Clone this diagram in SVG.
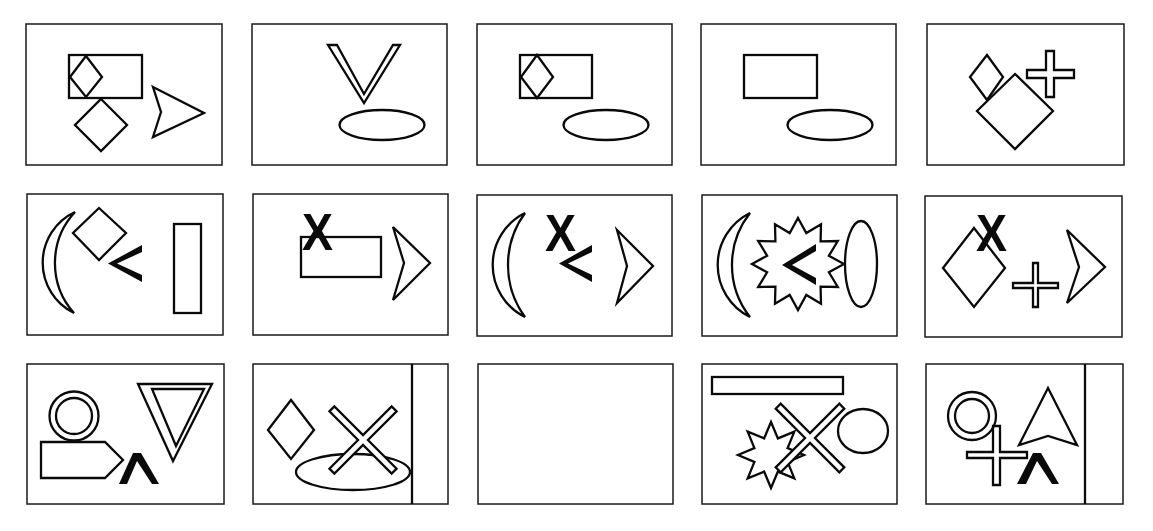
<svg xmlns="http://www.w3.org/2000/svg" width="1153" height="531" viewBox="0 0 1153 531">
<style>
.frame{fill:#fff;stroke:#1a1a1a;stroke-width:1.5}
.s{fill:none;stroke:#0a0a0a;stroke-width:2.3;stroke-linejoin:miter}
.w{fill:#fff;stroke:#0a0a0a;stroke-width:2.3}
.b{fill:#0a0a0a;stroke:none}
.x{font-family:"Liberation Sans",Arial,sans-serif;font-weight:bold;font-size:51px;fill:#0a0a0a}
</style>
<rect width="1153" height="531" fill="#fff"/>

<g id="p1">
<rect class="frame" x="26" y="24" width="196" height="141"/>
<rect class="s" x="69" y="55" width="73" height="43" stroke-width="2.6"/>
<polygon class="s" points="86,56 102,77 86,97 70,77"/>
<polygon class="s" points="101,99 127,125 101,151 75,125"/>
<polygon class="s" points="153,87 204,113 153,137 161,112"/>
</g>

<g id="p2">
<rect class="frame" x="252" y="24" width="195" height="141"/>
<polygon class="s" points="328,45 337,45 364,94 393,45 400,45 364,103"/>
<ellipse class="s" cx="382" cy="125" rx="42.5" ry="15"/>
</g>

<g id="p3">
<rect class="frame" x="477" y="24" width="195" height="141"/>
<rect class="s" x="520" y="55" width="72" height="43" stroke-width="2.6"/>
<polygon class="s" points="537,55 553,77 537,98 521,77"/>
<ellipse class="s" cx="606" cy="125" rx="42.5" ry="15"/>
</g>

<g id="p4">
<rect class="frame" x="701" y="24" width="195" height="141"/>
<rect class="s" x="744" y="55" width="73" height="43" stroke-width="2.6"/>
<ellipse class="s" cx="830" cy="125" rx="42.5" ry="15"/>
</g>

<g id="p5">
<rect class="frame" x="927" y="24" width="197" height="141"/>
<polygon class="s" points="987,55 1003,77 987,100 970,77"/>
<polygon class="w" points="1015,74 1053,111 1015,149 977,111"/>
<polygon class="s" points="1046,51 1054,51 1054,70 1074,70 1074,78 1054,78 1054,97 1046,97 1046,78 1027,78 1027,70 1046,70"/>
</g>

<g id="p6">
<rect class="frame" x="27" y="194" width="196" height="141"/>
<path class="s" d="M75,212 A56,56 0 0 0 74,313 A75,75 0 0 1 75,212 Z" stroke-width="2.5"/>
<polygon class="s" points="99,208 126,233 99,260 73,233"/>
<polygon class="b" points="142,245 142,252 117,263.5 142,275 142,282 108,263.5"/>
<rect class="s" x="174" y="224" width="27" height="89"/>
</g>

<g id="p7">
<rect class="frame" x="253" y="194" width="195" height="141"/>
<rect class="s" x="301" y="237" width="80" height="40"/>
<text class="x" x="302" y="250" textLength="31" lengthAdjust="spacingAndGlyphs">X</text>
<polygon class="s" points="393,227 430,263 393,300 404,263"/>
</g>

<g id="p8">
<rect class="frame" x="477" y="195" width="195" height="141"/>
<path class="s" d="M525,213 A58,58 0 0 0 525,317 A88,88 0 0 1 525,213 Z" stroke-width="2.5"/>
<text class="x" x="545" y="251" textLength="31" lengthAdjust="spacingAndGlyphs">X</text>
<polygon class="b" points="592,245 592,252 568,263.5 592,275 592,282 559,263.5"/>
<polygon class="s" points="617,230 653,266 617,303 627,266"/>
</g>

<g id="p9">
<rect class="frame" x="702" y="195" width="195" height="141"/>
<path class="s" d="M750,213 A58,58 0 0 0 750,317 A84,84 0 0 1 750,213 Z" stroke-width="2.5"/>
<polygon class="s" points="798,218 806.3,233.1 821,224.2 820.6,241.4 837.8,241 828.9,255.7 844,264 828.9,272.3 837.8,287 820.6,286.6 821,303.8 806.3,294.9 798,310 789.7,294.9 775,303.8 775.4,286.6 758.2,287 767.1,272.3 752,264 767.1,255.7 758.2,241 775.4,241.4 775,224.2 789.7,233.1"/>
<polygon class="b" points="816,244 816,251 792,265 816,278 816,285 782,265"/>
<ellipse class="s" cx="861" cy="264" rx="16" ry="43"/>
</g>

<g id="p10">
<rect class="frame" x="925" y="196" width="197" height="141"/>
<polygon class="s" points="974,228 1005,268 974,307 943,268"/>
<text class="x" x="976" y="251" textLength="31" lengthAdjust="spacingAndGlyphs">X</text>
<polygon class="w" stroke-width="2" points="1033,263 1038,263 1038,283 1058,283 1058,288 1038,288 1038,307 1033,307 1033,288 1013,288 1013,283 1033,283"/>
<polygon class="s" points="1067,230 1105,267 1067,303 1079,267"/>
</g>

<g id="p11">
<rect class="frame" x="27" y="364" width="197" height="140"/>
<circle class="s" cx="74" cy="416" r="24.5" stroke-width="2.6"/>
<circle class="s" cx="74" cy="416" r="18" stroke-width="2.6"/>
<polygon class="s" points="41,442 105,442 123,460 105,478 41,478"/>
<polygon class="b" points="133,453 141,453 159,484 152,484 137,461 127,484 119,484"/>
<polygon class="s" points="138,384 212,384 173,461"/>
<polygon class="s" points="152,389 204,389 176,446"/>
</g>

<g id="p12">
<rect class="frame" x="253" y="364" width="195" height="140"/>
<polygon class="s" points="291,400 314,430 291,459 268,430"/>
<ellipse class="s" cx="353" cy="472" rx="57" ry="18"/>
<polygon class="w" transform="rotate(45 363 440)" points="366.5,396 366.5,436.5 407,436.5 407,443.5 366.5,443.5 366.5,484 359.5,484 359.5,443.5 319,443.5 319,436.5 359.5,436.5 359.5,396"/>
<line class="s" x1="412" y1="364" x2="412" y2="504" stroke-width="1.7"/>
</g>

<g id="p13">
<rect class="frame" x="478" y="364" width="195" height="140"/>
</g>

<g id="p14">
<rect class="frame" x="702" y="364" width="195" height="140"/>
<rect class="s" x="712" y="377" width="131" height="17" stroke-width="2.6"/>
<polygon class="w" points="771,422 777.9,438.4 794.3,431.7 787.6,448.1 804,455 787.6,461.9 794.3,478.3 777.9,471.6 771,488 764.1,471.6 747.7,478.3 754.4,461.9 738,455 754.4,448.1 747.7,431.7 764.1,438.4"/>
<polygon class="w" transform="rotate(45 810 438)" points="813.5,393 813.5,434.5 855,434.5 855,441.5 813.5,441.5 813.5,483 806.5,483 806.5,441.5 765,441.5 765,434.5 806.5,434.5 806.5,393"/>
<ellipse class="s" cx="863" cy="431" rx="25" ry="22"/>
</g>

<g id="p15">
<rect class="frame" x="926" y="364" width="197" height="140"/>
<circle class="s" cx="972" cy="416" r="24" stroke-width="2.6"/>
<circle class="s" cx="972" cy="416" r="17" stroke-width="2.6"/>
<polygon class="s" points="993,426 1000,426 1000,452 1027,452 1027,458 1000,458 1000,485 993,485 993,458 967,458 967,452 993,452"/>
<polygon class="s" points="1048,388 1077,445 1048,436 1019,445"/>
<polygon class="b" points="1033,453 1041,453 1059,484 1052,484 1037,461 1026,484 1017,484"/>
<line class="s" x1="1085" y1="364" x2="1085" y2="504" stroke-width="1.7"/>
</g>
</svg>
